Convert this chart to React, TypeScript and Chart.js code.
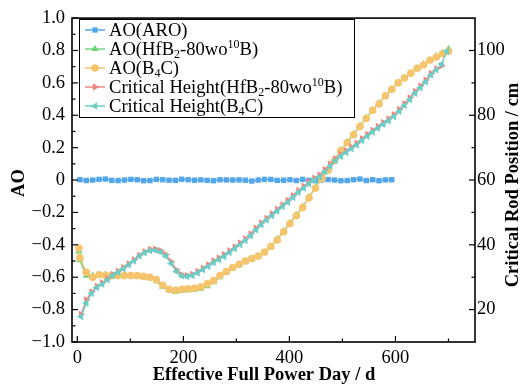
import React, { useEffect, useRef } from 'react';
import { Chart, registerables } from 'chart.js';
import { drawPoint } from 'chart.js/helpers';

Chart.register(...registerables);

// ---------------- data ----------------
const aroDays = [5, 17, 29, 41, 53, 65, 77, 89, 101, 113, 125, 137, 149, 161, 173, 185, 197, 209, 221, 233, 245, 257, 269, 281, 293, 305, 317, 329, 341, 353, 365, 377, 389, 401, 413, 425, 437, 449, 461, 473, 485, 497, 509, 521, 533, 545, 557, 569, 581, 593];
const aoARO = [0.002, -0.003, 0.0, 0.004, 0.006, -0.002, -0.003, 0.0, 0.004, 0.002, -0.004, -0.003, 0.004, 0.002, -0.001, -0.002, 0.005, 0.002, -0.001, 0.001, -0.002, -0.004, 0.002, 0.001, 0.0, 0.001, -0.001, -0.006, 0.0, 0.004, 0.004, -0.002, -0.001, 0.002, -0.003, 0.004, -0.002, -0.004, 0.001, 0.003, 0.0, -0.004, -0.003, 0.002, 0.006, -0.003, 0.002, -0.004, 0.001, 0.002];

const aoDays = [3, 5, 17, 29, 41, 53, 65, 77, 89, 101, 113, 125, 137, 149, 161, 173, 185, 197, 209, 221, 233, 245, 257, 269, 281, 293, 305, 317, 329, 341, 353, 365, 377, 389, 401, 413, 425, 437, 449, 461, 473, 485, 497, 509, 521, 533, 545, 557, 569, 581, 593, 605, 617, 629, 641, 653, 665, 677, 689, 700];
const aoHfB2 = [-0.44, -0.495, -0.59, -0.59, -0.585, -0.585, -0.59, -0.59, -0.59, -0.59, -0.595, -0.6, -0.605, -0.625, -0.66, -0.68, -0.69, -0.685, -0.68, -0.675, -0.67, -0.655, -0.63, -0.6, -0.57, -0.545, -0.525, -0.505, -0.49, -0.475, -0.45, -0.41, -0.365, -0.315, -0.265, -0.215, -0.165, -0.105, -0.045, 0.015, 0.065, 0.125, 0.185, 0.235, 0.285, 0.335, 0.385, 0.43, 0.475, 0.52, 0.56, 0.6, 0.63, 0.66, 0.69, 0.715, 0.74, 0.765, 0.785, 0.81];
const aoB4C = [-0.42, -0.48, -0.57, -0.6, -0.585, -0.59, -0.59, -0.59, -0.59, -0.59, -0.59, -0.595, -0.6, -0.615, -0.65, -0.675, -0.68, -0.675, -0.672, -0.668, -0.66, -0.64, -0.62, -0.59, -0.565, -0.54, -0.52, -0.5, -0.485, -0.47, -0.445, -0.41, -0.37, -0.32, -0.27, -0.22, -0.17, -0.11, -0.05, 0.01, 0.06, 0.12, 0.18, 0.23, 0.28, 0.33, 0.38, 0.43, 0.47, 0.52, 0.56, 0.6, 0.63, 0.66, 0.69, 0.71, 0.74, 0.76, 0.78, 0.795];

const chDays = [7, 17, 27, 37, 47, 57, 67, 77, 87, 97, 107, 117, 127, 137, 147, 157, 167, 177, 187, 197, 207, 217, 227, 237, 247, 257, 267, 277, 287, 297, 307, 317, 327, 337, 347, 357, 367, 377, 387, 397, 407, 417, 427, 437, 447, 457, 467, 477, 487, 497, 507, 517, 527, 537, 547, 557, 567, 577, 587, 597, 607, 617, 627, 637, 647, 657, 667, 677, 687, 697];
const chHfB2 = [18.5, 23.0, 25.5, 27.2, 28.3, 29.6, 30.9, 31.9, 33.0, 34.2, 35.4, 36.8, 37.9, 38.6, 38.7, 38.2, 37.0, 34.8, 32.3, 30.8, 30.5, 30.9, 31.8, 32.8, 33.9, 35.1, 36.0, 37.0, 38.2, 39.4, 40.6, 41.9, 43.4, 45.2, 46.8, 48.2, 49.6, 51.0, 52.4, 53.7, 55.2, 56.8, 58.1, 59.4, 60.6, 61.6, 63.2, 64.9, 66.6, 67.9, 69.1, 70.2, 71.4, 72.8, 74.1, 75.4, 76.6, 77.8, 78.9, 80.2, 81.8, 83.6, 85.4, 87.4, 89.1, 90.9, 92.9, 94.4, 95.3];
const chB4C = [17.8, 22.0, 25.0, 26.8, 27.8, 29.2, 30.5, 31.5, 32.6, 33.8, 35.0, 36.5, 37.5, 38.2, 38.3, 37.8, 36.5, 34.2, 31.8, 30.4, 30.2, 30.5, 31.3, 32.3, 33.3, 34.5, 35.4, 36.4, 37.6, 38.8, 40.0, 41.3, 42.8, 44.6, 46.2, 47.6, 49.0, 50.4, 51.8, 53.1, 54.6, 56.2, 57.5, 58.8, 60.0, 61.0, 62.6, 64.3, 66.0, 67.3, 68.5, 69.6, 70.8, 72.2, 73.5, 74.8, 76.0, 77.2, 78.3, 79.6, 81.2, 83.0, 84.8, 86.8, 88.5, 90.3, 92.4, 94.0, 95.8, 99.8];

const seriesLabels = ['AO(ARO)', 'AO(HfB₂-80wo¹⁰B)', 'AO(B₄C)', 'Critical Height(HfB₂-80wo¹⁰B)', 'Critical Height(B₄C)'];

const xTicks = [0, 200, 400, 600];
const xMinorTicks = [100, 300, 500, 700];
const yTicks = [-1, -0.8, -0.6, -0.4, -0.2, 0, 0.2, 0.4, 0.6, 0.8, 1];
const yMinorTicks = [-0.9, -0.7, -0.5, -0.3, -0.1, 0.1, 0.3, 0.5, 0.7, 0.9];
const y1Ticks = [20, 40, 60, 80, 100];
const y1MinorTicks = [30, 50, 70, 90];

const xTitle = 'Effective Full Power Day / d';
const yTitle = 'AO';
const y1Title = 'Critical Rod Position / cm';

// ---------------- style ----------------
const SERIF = '"Liberation Serif", "Times New Roman", "DejaVu Serif", serif';
const colors = ['#52a6ea', '#6dd67c', '#f5c46c', '#f3847d', '#69cfc6'];
const styles: any[] = [
  { pointStyle: 'rect', rotation: 0, radius: 3.8 },
  { pointStyle: 'triangle', rotation: 0, radius: 4.2 },
  { pointStyle: 'circle', rotation: 0, radius: 3.8 },
  { pointStyle: 'triangle', rotation: 90, radius: 4.2 },
  { pointStyle: 'triangle', rotation: -90, radius: 4.2 },
];

const toXY = (xs: number[], ys: number[]) => ys.map((y, i) => ({ x: xs[i], y }));

function richSegments(label: string) {
  const sub = '₀₁₂₃₄₅₆₇₈₉';
  const sup = '⁰¹²³⁴⁵⁶⁷⁸⁹';
  const segs: { t: string; k: number }[] = [];
  for (const ch of label) {
    let k = 0;
    let c = ch;
    const si = sub.indexOf(ch);
    if (si >= 0) { k = -1; c = String(si); }
    const pi = sup.indexOf(ch);
    if (pi >= 0) { k = 1; c = String(pi); }
    const last = segs[segs.length - 1];
    if (last && last.k === k) last.t += c;
    else segs.push({ t: c, k });
  }
  return segs;
}

function fmtMinus(s: string) {
  return s.replace('-', '\u2212');
}

const decorPlugin = {
  id: 'decor',
  afterDatasetsDraw(chart: any) {
    const { ctx, chartArea: a, scales } = chart;
    ctx.save();
    ctx.strokeStyle = '#000';
    // ticks (inward)
    ctx.lineWidth = 1.2;
    const line = (x1: number, y1: number, x2: number, y2: number) => {
      ctx.beginPath();
      ctx.moveTo(x1, y1);
      ctx.lineTo(x2, y2);
      ctx.stroke();
    };
    xTicks.forEach((v) => { const x = scales.x.getPixelForValue(v); line(x, a.bottom, x, a.bottom - 6); });
    xMinorTicks.forEach((v) => { const x = scales.x.getPixelForValue(v); line(x, a.bottom, x, a.bottom - 3.5); });
    yTicks.forEach((v) => { const y = scales.y.getPixelForValue(v); line(a.left, y, a.left + 6, y); });
    yMinorTicks.forEach((v) => { const y = scales.y.getPixelForValue(v); line(a.left, y, a.left + 3.5, y); });
    y1Ticks.forEach((v) => { const y = scales.y1.getPixelForValue(v); line(a.right, y, a.right - 6, y); });
    y1MinorTicks.forEach((v) => { const y = scales.y1.getPixelForValue(v); line(a.right, y, a.right - 3.5, y); });
    // frame
    ctx.lineWidth = 1.6;
    ctx.strokeRect(a.left, a.top, a.right - a.left, a.bottom - a.top);

    // legend
    const lx = 79, ly = 19, lw = 275, lh = 98;
    ctx.fillStyle = '#fff';
    ctx.fillRect(lx, ly, lw, lh);
    ctx.lineWidth = 1;
    ctx.strokeRect(lx + 0.5, ly + 0.5, lw, lh);
    const fs = 18.6;
    chart.data.datasets.forEach((ds: any, i: number) => {
      const cy = 30 + i * 19;
      ctx.strokeStyle = ds.borderColor;
      ctx.lineWidth = 1.5;
      line(85, cy, 105, cy);
      ctx.fillStyle = ds.backgroundColor;
      drawPoint(ctx, { pointStyle: ds.pointStyle, rotation: ds.pointRotation, radius: ds.pointRadius, borderWidth: 0 } as any, 95, cy);
      ctx.fillStyle = '#000';
      ctx.textBaseline = 'alphabetic';
      ctx.textAlign = 'left';
      let x = 109;
      const base = cy + 6;
      richSegments(ds.label).forEach((s) => {
        if (s.k === 0) {
          ctx.font = `${fs}px ${SERIF}`;
          ctx.fillText(s.t, x, base);
        } else {
          ctx.font = `${Math.round(fs * 0.62)}px ${SERIF}`;
          ctx.fillText(s.t, x, s.k > 0 ? base - 7 : base + 3);
        }
        x += ctx.measureText(s.t).width;
      });
    });

    // titles
    ctx.fillStyle = '#000';
    ctx.font = `bold 18.5px ${SERIF}`;
    ctx.textAlign = 'center';
    ctx.textBaseline = 'middle';
    ctx.fillText(xTitle, 264, 375);
    ctx.save();
    ctx.translate(19, 183);
    ctx.rotate(-Math.PI / 2);
    ctx.fillText(yTitle, 0, 0);
    ctx.restore();
    ctx.save();
    ctx.translate(513, 185);
    ctx.rotate(-Math.PI / 2);
    ctx.fillText(y1Title, 0, 0);
    ctx.restore();
    ctx.restore();
  },
};

export default function App() {
  const ref = useRef<HTMLCanvasElement | null>(null);
  useEffect(() => {
    if (!ref.current) return;
    const sets = [
      toXY(aroDays, aoARO),
      toXY(aoDays, aoHfB2),
      toXY(aoDays, aoB4C),
      toXY(chDays, chHfB2),
      toXY(chDays, chB4C),
    ];
    const orders = [5, 4, 3, 2, 1];
    const axes = ['y', 'y', 'y', 'y1', 'y1'];
    const tickFont = { family: SERIF, size: 18.5 };
    const chart = new Chart(ref.current, {
      type: 'line',
      data: {
        datasets: sets.map((d, i) => ({
          label: seriesLabels[i],
          data: d,
          yAxisID: axes[i],
          order: orders[i],
          borderColor: colors[i],
          backgroundColor: colors[i],
          borderWidth: 1.3,
          pointStyle: styles[i].pointStyle,
          pointRotation: styles[i].rotation,
          pointRadius: styles[i].radius,
          pointBorderWidth: 0,
          pointBackgroundColor: colors[i],
          tension: 0,
          fill: false,
        })),
      },
      options: {
        responsive: false,
        animation: false,
        layout: { padding: { top: 16, left: 0, right: 0, bottom: 0 } },
        plugins: { legend: { display: false }, tooltip: { enabled: false } },
        scales: {
          x: {
            type: 'linear',
            min: -10,
            max: 750,
            grid: { display: false, drawTicks: false },
            border: { display: false },
            ticks: { font: tickFont, color: '#000', padding: 5, maxRotation: 0, callback: (v: any) => fmtMinus(String(v)) },
            afterBuildTicks: (s: any) => { s.ticks = xTicks.map((v) => ({ value: v })); },
            afterFit: (s: any) => { s.height = 45; },
          },
          y: {
            type: 'linear',
            position: 'left',
            min: -1,
            max: 1,
            grid: { display: false, drawTicks: false },
            border: { display: false },
            ticks: { font: tickFont, color: '#000', padding: 7, callback: (v: any) => (Math.abs(v) < 1e-9 ? '0' : fmtMinus(Number(v).toFixed(1))) },
            afterBuildTicks: (s: any) => { s.ticks = yTicks.map((v) => ({ value: v })); },
            afterFit: (s: any) => { s.width = 72; },
          },
          y1: {
            type: 'linear',
            position: 'right',
            min: 10,
            max: 110,
            grid: { display: false, drawTicks: false },
            border: { display: false },
            ticks: { font: tickFont, color: '#000', padding: 2, callback: (v: any) => String(v) },
            afterBuildTicks: (s: any) => { s.ticks = y1Ticks.map((v) => ({ value: v })); },
            afterFit: (s: any) => { s.width = 50; },
          },
        },
      },
      plugins: [decorPlugin],
    } as any);
    return () => chart.destroy();
  }, []);
  return (
    <div style={{ position: 'fixed', left: 0, top: 0, width: 525, height: 387, background: '#fff' }}>
      <canvas ref={ref} width={525} height={387} style={{ width: 525, height: 387 }} />
    </div>
  );
}
